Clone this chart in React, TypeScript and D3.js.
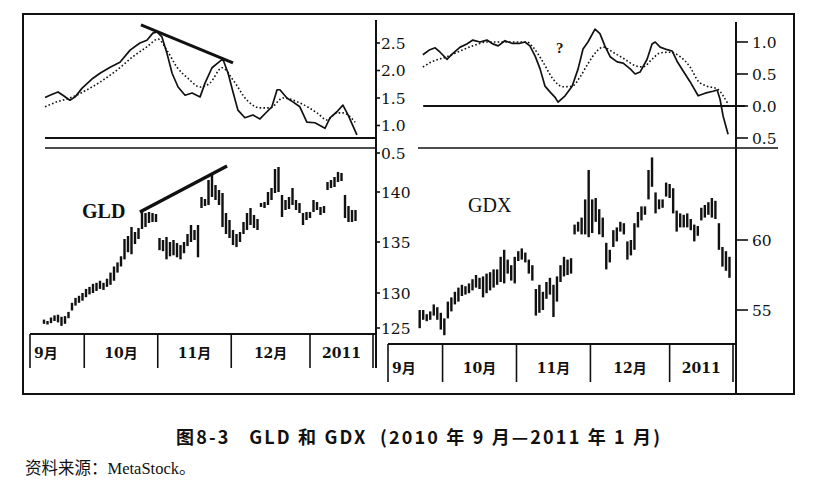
import * as d3 from 'd3'

// month cells on the date strip, in trading-day units
const months = ['9月', '10月', '11月', '12月', '2011']
const monthStarts = [0, 15.5, 36.5, 57.5, 80, 98]

// GLD daily high / low, first bar on day 4
const gldStart = 4
const gldHigh = [
  126.2, 126.0, 126.5, 126.8, 126.9, 126.6, 126.7, 127.3, 128.6, 129.3,
  129.6, 130.0, 130.4, 130.6, 130.9, 131.0, 131.2, 131.0, 131.4, 132.0,
  132.6, 133.0, 133.6, 135.3, 135.6, 136.5, 136.0, 136.4, 138.0, 137.9,
  138.0, 137.9, 137.8, 135.4, 135.2, 135.5, 135.0, 135.2, 134.9, 134.7,
  135.0, 135.8, 136.7, 136.2, 136.7, 139.5, 139.3, 141.2, 141.9, 140.7,
  140.2, 139.9, 137.9, 137.2, 136.2, 135.8, 136.0, 137.0, 137.9, 138.4,
  137.7, 137.3, 138.9, 139.0, 140.0, 140.4, 142.3, 142.5, 139.7, 139.2,
  139.5, 140.4, 139.2, 138.9, 137.9, 138.0, 138.0, 139.2, 139.0, 138.5,
  138.6, 141.0, 141.2, 141.5, 142.0, 141.9, 139.7, 138.6, 138.2, 138.2,
]
const gldLow = [
  125.6, 125.5, 125.7, 126.0, 125.8, 125.3, 125.6, 126.4, 127.5, 128.2,
  128.6, 128.9, 129.4, 129.8, 130.0, 130.2, 130.4, 130.3, 130.6, 130.8,
  131.2, 132.0, 132.6, 133.3, 134.0, 133.8, 134.8, 135.3, 136.3, 136.5,
  136.9, 137.0, 137.0, 134.2, 134.1, 133.3, 133.6, 133.7, 133.5, 133.3,
  133.9, 134.6, 135.0, 135.2, 133.5, 138.4, 138.6, 138.7, 139.5, 139.2,
  138.7, 136.5, 135.8, 135.4, 134.7, 134.5, 135.0, 135.8, 136.2, 136.7,
  136.4, 136.2, 138.5, 138.4, 138.7, 139.2, 139.9, 140.0, 137.5, 138.2,
  138.3, 138.7, 138.2, 137.9, 136.7, 137.2, 137.4, 138.0, 138.2, 137.7,
  137.9, 140.2, 140.4, 140.5, 141.0, 141.1, 137.4, 137.0, 137.0, 137.1,
]

// GDX daily high / low, first bar on day 9
const gdxStart = 9
const gdxHigh = [
  55.0, 55.0, 54.7, 54.9, 55.4, 55.2, 54.8, 54.4, 55.6, 55.9,
  56.3, 56.6, 56.8, 56.7, 56.9, 57.2, 57.5, 57.3, 57.4, 57.6,
  57.7, 57.9, 57.9, 58.8, 59.3, 58.6, 58.2, 58.8, 59.2, 59.4,
  59.1, 58.6, 58.2, 56.5, 56.8, 56.3, 57.0, 57.3, 56.8, 57.4,
  58.2, 58.8, 58.6, 58.7, 61.1, 61.3, 61.6, 62.9, 65.0, 62.9,
  63.0, 62.2, 61.6, 59.8, 59.3, 60.7, 60.9, 61.3, 61.2, 59.9,
  60.0, 61.2, 62.0, 62.4, 62.4, 65.0, 65.9, 63.4, 62.9, 62.9,
  64.1, 64.0, 63.7, 62.1, 61.9, 61.8, 61.9, 61.5, 61.1, 61.0,
  62.3, 62.5, 62.7, 63.0, 62.8, 61.2, 59.5, 59.2, 58.8,
]
const gdxLow = [
  53.7, 54.3, 54.2, 54.3, 54.6, 54.3, 53.6, 53.2, 54.4, 54.9,
  55.4, 55.6, 56.0, 56.1, 56.2, 56.4, 56.6, 56.5, 55.9, 56.2,
  56.4, 56.6, 56.8, 57.0, 56.9, 57.6, 57.1, 56.9, 58.5, 58.6,
  58.4, 57.6, 57.1, 54.6, 54.8, 55.0, 55.8, 56.1, 54.5, 55.6,
  57.0, 57.4, 57.5, 57.6, 60.4, 60.6, 60.4, 60.4, 60.2, 60.5,
  61.3, 60.4, 60.2, 57.9, 58.4, 59.5, 59.9, 60.6, 60.4, 58.6,
  58.9, 59.3, 60.9, 61.4, 61.8, 62.9, 63.8, 61.9, 62.2, 62.3,
  63.1, 63.0, 61.9, 60.6, 60.9, 60.9, 60.9, 60.7, 59.9, 60.3,
  61.4, 61.6, 61.8, 61.6, 61.5, 59.3, 58.1, 57.8, 57.3,
]

// GLD oscillator (solid) and its signal line (dotted)
const gldOscDays = [4.3, 5.7, 8.0, 9.4, 11.4, 12.9, 14.9, 18.0, 20.0, 22.9, 25.7, 28.6, 31.4, 33.4, 35.1, 36.3, 37.7, 39.1, 40.6, 42.3, 44.3, 46.3, 48.6, 50.0, 52.0, 53.7, 55.1, 56.6, 58.0, 59.4, 61.4, 63.7, 65.7, 67.7, 69.1, 70.6, 71.4, 73.4, 75.1, 77.1, 79.1, 81.4, 84.3, 85.7, 87.7, 89.4, 90.9, 93.4]
const gldOsc = [1.51, 1.55, 1.61, 1.55, 1.46, 1.52, 1.68, 1.86, 1.95, 2.06, 2.15, 2.37, 2.5, 2.55, 2.68, 2.7, 2.61, 2.32, 1.95, 1.7, 1.55, 1.59, 1.52, 1.77, 2.05, 2.14, 2.21, 1.95, 1.61, 1.28, 1.14, 1.19, 1.12, 1.25, 1.34, 1.65, 1.65, 1.5, 1.43, 1.34, 1.06, 1.05, 0.95, 1.14, 1.25, 1.37, 1.19, 0.83]
const gldSigDays = [4.3, 7.7, 11.4, 16.3, 20.0, 24.9, 29.4, 33.4, 36.6, 39.1, 42.0, 45.1, 48.6, 51.4, 54.9, 58.0, 62.0, 65.7, 68.6, 72.3, 77.1, 82.0, 84.9, 87.7, 89.4, 92.9]
const gldSig = [1.34, 1.43, 1.5, 1.65, 1.79, 2.01, 2.25, 2.43, 2.57, 2.37, 2.06, 1.86, 1.7, 1.77, 2.05, 1.83, 1.46, 1.32, 1.32, 1.5, 1.41, 1.23, 1.1, 1.23, 1.23, 1.06]

// GDX oscillator (solid) and its signal line (dotted)
const gdxOscDays = [9.9, 11.9, 13.4, 14.8, 16.8, 18.2, 20.5, 22.4, 24.1, 26.1, 28.1, 29.8, 31.3, 33.2, 35.2, 37.5, 38.9, 40.3, 41.8, 43.2, 44.6, 46.0, 47.4, 48.3, 50.3, 52.3, 54.0, 55.4, 56.8, 58.8, 60.2, 61.6, 63.1, 65.1, 66.8, 68.8, 70.2, 71.6, 73.6, 75.0, 75.9, 77.3, 79.3, 80.7, 82.1, 83.8, 85.8, 88.1, 90.1, 92.3, 93.5, 94.3, 95.2, 96.6]
const gdxOsc = [0.8, 0.88, 0.91, 0.84, 0.73, 0.81, 0.92, 0.97, 1.03, 1.0, 1.03, 0.97, 0.94, 1.02, 0.98, 0.98, 1.0, 0.94, 0.78, 0.58, 0.31, 0.22, 0.14, 0.06, 0.16, 0.31, 0.58, 0.89, 1.0, 1.2, 1.13, 0.94, 0.77, 0.69, 0.67, 0.58, 0.5, 0.53, 0.73, 0.97, 1.0, 0.92, 0.88, 0.86, 0.7, 0.55, 0.38, 0.16, 0.2, 0.23, 0.25, 0.11, -0.16, -0.44]
const gdxSigDays = [9.9, 12.8, 16.8, 20.5, 24.1, 28.1, 33.8, 39.5, 41.2, 44.0, 46.9, 49.7, 52.3, 54.5, 56.8, 59.4, 61.1, 63.9, 67.3, 70.2, 72.4, 75.0, 77.3, 80.1, 83.0, 85.8, 88.1, 90.6, 93.5, 95.2, 96.6]
const gdxSig = [0.61, 0.7, 0.77, 0.86, 0.94, 1.0, 1.0, 1.0, 0.92, 0.69, 0.42, 0.3, 0.31, 0.45, 0.66, 0.86, 0.92, 0.84, 0.73, 0.63, 0.61, 0.73, 0.83, 0.84, 0.77, 0.61, 0.39, 0.31, 0.27, 0.16, 0.03]

// hand-drawn trend lines: [day, value]
const gldOscTrend: [number, number][] = [[31.7, 2.83], [58.0, 2.14]]
const gldPriceTrend: [number, number][] = [[31.4, 138.0], [56.3, 142.6]]

const gldOscTicks = [0.5, 1.0, 1.5, 2.0, 2.5]
const gldPriceTicks = [125, 130, 135, 140]
const gdxOscTicks = [-0.5, 0, 0.5, 1.0]
const gdxPriceTicks = [55, 60]

const serif = "'DejaVu Serif', serif"
const times = "'Liberation Serif', 'Times New Roman', serif"
const cjk = "'DejaVu Serif', 'Noto Sans CJK SC', serif"

type Scale = d3.ScaleLinear<number, number>

function Bars({ x, y, start, hi, lo }: { x: Scale; y: Scale; start: number; hi: number[]; lo: number[] }) {
  return (
    <g fill="#111">
      {hi.map((h, i) => (
        <rect key={i} x={x(start + i) - 1.2} width={2.4} y={y(h)} height={Math.max(1.5, y(lo[i]) - y(h))} />
      ))}
    </g>
  )
}

function Osc({ x, y, days, vals, dotted }: { x: Scale; y: Scale; days: number[]; vals: number[]; dotted?: boolean }) {
  const line = d3.line<number>()
    .x((_, i) => x(days[i]))
    .y(d => y(d))
    .curve(dotted ? d3.curveMonotoneX : d3.curveLinear)
  return (
    <path d={line(vals) || ''} fill="none" stroke="#111"
      strokeWidth={dotted ? 1.6 : 1.7} strokeDasharray={dotted ? '1.6,2.2' : undefined}
      strokeLinejoin="round" />
  )
}

function DateStrip({ x, top, bottom, baseline, right }: { x: Scale; top: number; bottom: number; baseline: number; right: number }) {
  return (
    <g>
      <line x1={x(0)} x2={right} y1={top} y2={top} stroke="#111" strokeWidth={2} />
      {monthStarts.map((m, i) => (
        <line key={i} x1={x(m)} x2={x(m)} y1={top} y2={bottom} stroke="#111" strokeWidth={1.6} />
      ))}
      {months.map((m, i) => (
        <text key={m} x={i === 0 ? x(monthStarts[0]) + 4 : (x(monthStarts[i]) + x(monthStarts[i + 1])) / 2}
          y={baseline} textAnchor={i === 0 ? 'start' : 'middle'}
          fontFamily={cjk} fontWeight="bold" fontSize={14} fill="#111">{m}</text>
      ))}
    </g>
  )
}

function Ticks({ y, ticks, axisX, len, gap, fmt }: { y: Scale; ticks: number[]; axisX: number; len: number; gap: number; fmt: (v: number) => string }) {
  return (
    <g>
      {ticks.map(t => (
        <g key={t}>
          <line x1={axisX} x2={axisX + len} y1={y(t)} y2={y(t)} stroke="#111" strokeWidth={1.6} />
          <text x={axisX + len + gap} y={y(t)} dy="0.36em" fontFamily={serif} fontSize={15.5} fill="#111">{fmt(t)}</text>
        </g>
      ))}
    </g>
  )
}

export default function App() {
  const W = 828
  const H = 490

  const xL = d3.scaleLinear().domain([0, 98]).range([30, 373])
  const xR = d3.scaleLinear().domain([0, 98]).range([388, 733])
  const yLOsc = d3.scaleLinear().domain([0.5, 2.5]).range([153, 43])
  const yLPx = d3.scaleLinear().domain([125, 130, 135, 140, 145]).range([328, 293, 242, 192, 142])
  const yROsc = d3.scaleLinear().domain([-0.5, 1]).range([138, 42])
  const yRPx = d3.scaleLinear().domain([55, 60]).range([310, 240])

  const oneDec = d3.format('.1f')
  const trend = (x: Scale, y: Scale) => d3.line<[number, number]>().x(d => x(d[0])).y(d => y(d[1]))

  return (
    <svg width={W} height={H} style={{ position: 'absolute', left: 0, top: 0, background: '#fff' }}>
      {/* outer frame */}
      <rect x={23} y={14} width={771} height={380} fill="none" stroke="#111" strokeWidth={2} />

      {/* ---- GLD panel ---- */}
      <line x1={376} x2={376} y1={20} y2={368} stroke="#111" strokeWidth={2} />
      <line x1={45} x2={376} y1={138} y2={138} stroke="#111" strokeWidth={2.2} />
      <line x1={45} x2={376} y1={148} y2={148} stroke="#111" strokeWidth={1.6} />
      <Osc x={xL} y={yLOsc} days={gldSigDays} vals={gldSig} dotted />
      <Osc x={xL} y={yLOsc} days={gldOscDays} vals={gldOsc} />
      <path d={trend(xL, yLOsc)(gldOscTrend) || ''} stroke="#111" strokeWidth={3} fill="none" />
      <Ticks y={yLOsc} ticks={gldOscTicks} axisX={376} len={4} gap={1} fmt={oneDec} />

      <Bars x={xL} y={yLPx} start={gldStart} hi={gldHigh} lo={gldLow} />
      <path d={trend(xL, yLPx)(gldPriceTrend) || ''} stroke="#111" strokeWidth={3.4} fill="none" />
      <Ticks y={yLPx} ticks={gldPriceTicks} axisX={376} len={4} gap={1} fmt={d => String(d)} />
      <text x={82} y={218} fontFamily={times} fontSize={20} fontWeight="bold" fill="#111">GLD</text>
      <DateStrip x={xL} top={334} bottom={368} baseline={358} right={376} />

      {/* ---- GDX panel ---- */}
      <line x1={736} x2={736} y1={22} y2={394} stroke="#111" strokeWidth={2} />
      <line x1={xR(10)} x2={745} y1={yROsc(0)} y2={yROsc(0)} stroke="#111" strokeWidth={2} />
      <line x1={418} x2={778} y1={148} y2={148} stroke="#111" strokeWidth={1.6} />
      <Osc x={xR} y={yROsc} days={gdxSigDays} vals={gdxSig} dotted />
      <Osc x={xR} y={yROsc} days={gdxOscDays} vals={gdxOsc} />
      <text x={556} y={53} fontFamily={times} fontWeight="bold" fontSize={15} fill="#111">?</text>
      <Ticks y={yROsc} ticks={gdxOscTicks} axisX={736} len={12} gap={4} fmt={d => oneDec(Math.abs(d))} />

      <Bars x={xR} y={yRPx} start={gdxStart} hi={gdxHigh} lo={gdxLow} />
      <Ticks y={yRPx} ticks={gdxPriceTicks} axisX={736} len={12} gap={4} fmt={d => String(d)} />
      <text x={468} y={212} fontFamily={times} fontSize={20} fill="#111">GDX</text>
      <DateStrip x={xR} top={344} bottom={382} baseline={373} right={736} />

      {/* caption */}
      <text x={176} y={444} textLength={484} lengthAdjust="spacing" xmlSpace="preserve"
        fontFamily="'Noto Sans CJK SC', sans-serif" fontWeight="bold" fontSize={18} fill="#111">
        {'图8-3   GLD 和 GDX  (2010 年 9 月—2011 年 1 月)'}
      </text>
      <text x={25} y={474} fontFamily="'Liberation Serif', 'Noto Sans CJK SC', serif"
        fontSize={16.5} fill="#111">资料来源：MetaStock。</text>
    </svg>
  )
}
